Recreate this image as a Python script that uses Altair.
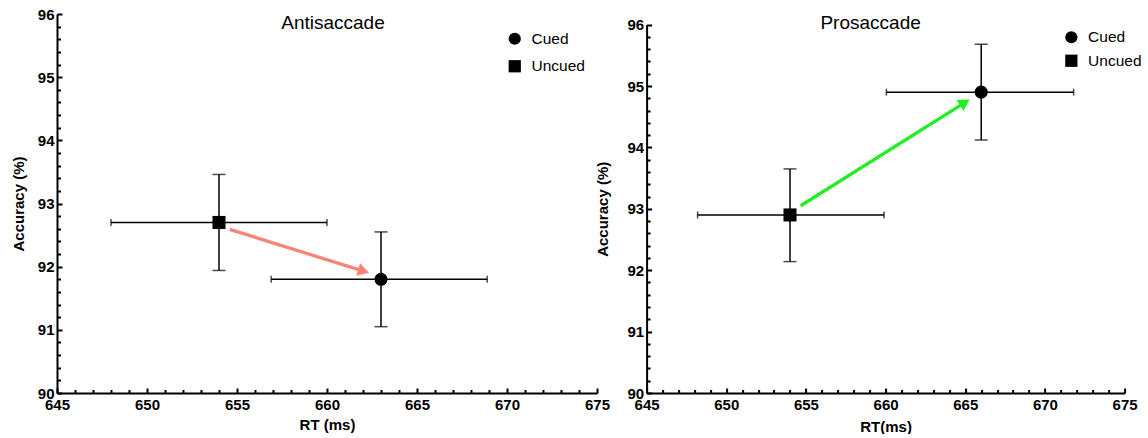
import altair as alt
import pandas as pd

FONT = "Liberation Sans"

# ---- data ----
conditions = ["Cued", "Uncued"]
shapes = ["circle", "square"]

anti_rt = [663.0, 654.0]
anti_rt_lo = [656.9, 648.0]
anti_rt_hi = [668.9, 660.0]
anti_acc = [91.8, 92.7]
anti_acc_lo = [91.05, 91.94]
anti_acc_hi = [92.55, 93.46]
anti_arrow_from = [654.6, 92.59]
anti_arrow_head = [662.03, 91.93]

pro_rt = [666.0, 654.0]
pro_rt_lo = [660.05, 648.2]
pro_rt_hi = [671.8, 659.9]
pro_acc = [94.9, 92.9]
pro_acc_lo = [94.12, 92.14]
pro_acc_hi = [95.68, 93.65]
pro_arrow_from = [654.67, 93.05]
pro_arrow_head = [664.97, 94.73]

x_major = list(range(645, 676, 5))
x_minor = [v for v in range(646, 675) if v % 5 != 0]
y_major = list(range(90, 97))
y_minor = [round(90 + 0.2 * i, 1) for i in range(1, 30) if i % 5 != 0]


def panel(name, rt, rt_lo, rt_hi, acc, acc_lo, acc_hi, a_from, a_head,
          a_color, a_angle, x_title, width, y_range, title_x, title_y,
          leg_x, leg_y, leg_row_pad, y_title_pad, x_title_pad):
    df = pd.DataFrame({"cond": conditions, "rt": rt, "rt_lo": rt_lo,
                       "rt_hi": rt_hi, "acc": acc, "acc_lo": acc_lo,
                       "acc_hi": acc_hi})
    vcaps = pd.concat([
        pd.DataFrame({"x": df["rt"], "y": df["acc_lo"]}),
        pd.DataFrame({"x": df["rt"], "y": df["acc_hi"]}),
    ])
    hcaps = pd.concat([
        pd.DataFrame({"x": df["rt_lo"], "y": df["acc"]}),
        pd.DataFrame({"x": df["rt_hi"], "y": df["acc"]}),
    ])
    arrow = pd.DataFrame({"x": [a_from[0]], "y": [a_from[1]],
                          "x2": [a_head[0]], "y2": [a_head[1]]})
    ttl = pd.DataFrame({"t": [name]})

    xs = alt.Scale(domain=[645, 675], nice=False, zero=False)
    if y_range:
        ys = alt.Scale(domain=[90, 96], nice=False, zero=False, range=y_range)
    else:
        ys = alt.Scale(domain=[90, 96], nice=False, zero=False)

    x_main = alt.Axis(orient="bottom", values=x_major, ticks=False, grid=False,
                      domainColor="black", domainWidth=2,
                      labelFont=FONT, labelFontSize=15, labelFontWeight="bold",
                      labelColor="black", labelPadding=4, labelFlush=False,
                      labelOverlap=False, labelBound=False,
                      title=x_title, titleFont=FONT, titleFontSize=15,
                      titleFontWeight="bold", titleColor="black",
                      titlePadding=x_title_pad)
    y_main = alt.Axis(orient="left", values=y_major, ticks=False, grid=False,
                      domainColor="black", domainWidth=2,
                      labelFont=FONT, labelFontSize=15, labelFontWeight="bold",
                      labelColor="black", labelPadding=3, labelFlush=False,
                      labelOverlap=False, labelBound=False,
                      title="Accuracy (%)", titleFont=FONT, titleFontSize=15,
                      titleFontWeight="bold", titleColor="black",
                      titlePadding=y_title_pad)

    def tick_axes(vals_x, vals_y, size):
        ax = alt.Axis(orient="bottom", values=vals_x, offset=-size,
                      tickSize=size, tickWidth=2, tickColor="black",
                      labels=False, domain=False, grid=False, title=None)
        ay = alt.Axis(orient="left", values=vals_y, offset=-size,
                      tickSize=size, tickWidth=2, tickColor="black",
                      labels=False, domain=False, grid=False, title=None)
        return ax, ay

    mx, my = tick_axes(x_major, y_major, 5)
    nx, ny = tick_axes(x_minor, y_minor, 3.5)

    hbar = alt.Chart(df).mark_rule(color="black", strokeWidth=1.5).encode(
        x=alt.X("rt_lo:Q", scale=xs, axis=x_main),
        x2="rt_hi:Q",
        y=alt.Y("acc:Q", scale=ys, axis=y_main),
    )
    vbar = alt.Chart(df).mark_rule(color="black", strokeWidth=1.5).encode(
        x=alt.X("rt:Q", scale=xs, axis=None),
        y=alt.Y("acc_lo:Q", scale=ys, axis=None),
        y2="acc_hi:Q",
    )
    vcap = alt.Chart(vcaps).mark_tick(color="black", orient="horizontal",
                                      size=13, thickness=1.5).encode(
        x=alt.X("x:Q", scale=xs, axis=None),
        y=alt.Y("y:Q", scale=ys, axis=None),
    )
    hcap = alt.Chart(hcaps).mark_tick(color="black", orient="vertical",
                                      size=7, thickness=1.5).encode(
        x=alt.X("x:Q", scale=xs, axis=None),
        y=alt.Y("y:Q", scale=ys, axis=None),
    )
    arr = alt.Chart(arrow).mark_rule(color=a_color, strokeWidth=3.3).encode(
        x=alt.X("x:Q", scale=xs, axis=None),
        y=alt.Y("y:Q", scale=ys, axis=None),
        x2="x2:Q", y2="y2:Q",
    )
    head = alt.Chart(arrow).mark_point(shape="triangle-right", filled=True,
                                       size=170, angle=a_angle, color=a_color,
                                       opacity=1).encode(
        x=alt.X("x2:Q", scale=xs, axis=None),
        y=alt.Y("y2:Q", scale=ys, axis=None),
    )
    pts = alt.Chart(df).mark_point(filled=True, size=170, color="black",
                                   opacity=1).encode(
        x=alt.X("rt:Q", scale=xs, axis=None),
        y=alt.Y("acc:Q", scale=ys, axis=None),
        shape=alt.Shape("cond:N",
                        scale=alt.Scale(domain=conditions, range=shapes),
                        legend=alt.Legend(orient="none", legendX=leg_x,
                                          legendY=leg_y, title=None,
                                          labelFont=FONT, labelFontSize=15.5,
                                          labelColor="black", labelOffset=9,
                                          symbolSize=150, symbolFillColor="black",
                                          symbolStrokeWidth=0,
                                          rowPadding=leg_row_pad, padding=0)),
    )
    title = alt.Chart(ttl).mark_text(font=FONT, fontSize=19, color="black",
                                     align="center", baseline="middle").encode(
        x=alt.value(title_x), y=alt.value(title_y), text="t:N")
    major = alt.Chart(df).mark_point(opacity=0).encode(
        x=alt.X("rt:Q", scale=xs, axis=mx),
        y=alt.Y("acc:Q", scale=ys, axis=my),
    )
    minor = alt.Chart(df).mark_point(opacity=0).encode(
        x=alt.X("rt:Q", scale=xs, axis=nx),
        y=alt.Y("acc:Q", scale=ys, axis=ny),
    )
    return alt.layer(hbar, vbar, vcap, hcap, arr, head, pts, title, major,
                     minor).resolve_axis(x="independent", y="independent"
                     ).properties(width=width, height=379)


left = panel("Antisaccade", anti_rt, anti_rt_lo, anti_rt_hi, anti_acc,
             anti_acc_lo, anti_acc_hi, anti_arrow_from, anti_arrow_head,
             "#F88478", 17, "RT (ms)", 540, None, 276, 9,
             450, 17, 10.5, 11, 5)
right = panel("Prosaccade", pro_rt, pro_rt_lo, pro_rt_hi, pro_acc,
              pro_acc_lo, pro_acc_hi, pro_arrow_from, pro_arrow_head,
              "#22EE22", 328, "RT(ms)", 478, [379, 10.6], 224, 9,
              417, 15.5, 6.5, 16, 7)

chart = alt.hconcat(left, right, spacing=49.6, bounds="flush").resolve_scale(
    x="independent", y="independent", shape="independent"
).configure_view(stroke=None).properties(
    padding={"left": 11, "top": 7, "right": 0, "bottom": 0},
    background="white",
)

chart.save("out.html", embed_options={"renderer": "svg", "actions": False})
